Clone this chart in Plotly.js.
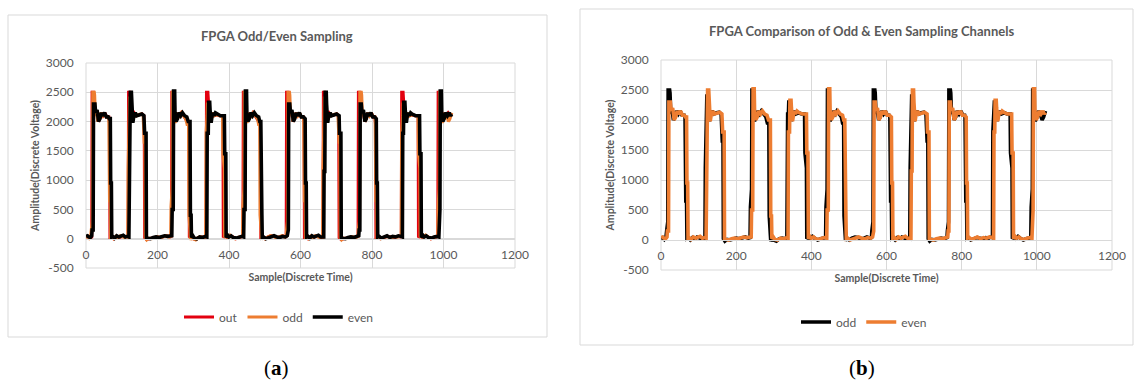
<!DOCTYPE html>
<html>
<head>
<meta charset="utf-8">
<script src="https://cdn.plot.ly/plotly-3.0.1.min.js"></script>
<style>
  html, body { margin: 0; padding: 0; background: #ffffff; }
  #chart { width: 1135px; height: 383px; }
</style>
</head>
<body>
<div id="chart"></div>
<script>
// ---------------- DATA ----------------
const xTickVals = [0, 200, 400, 600, 800, 1000, 1200];
const xTickLabels = ["0", "200", "400", "600", "800", "1000", "1200"];
const yTickVals = [-500, 0, 500, 1000, 1500, 2000, 2500, 3000];
const yTickLabels = ["-500", "0", "500", "1000", "1500", "2000", "2500", "3000"];

// "out" channel (combined output)
const sampleOut = [
  0,6,12,16,17,21,23,27,31,35,39,43,48,53,58,64,66,67,
  71,77,85,93,101,109,115,118,
  119,123,125,128,131,135,141,149,157,162,163,164,
  169,177,187,197,207,217,227,235,239,
  240,244,246,249,253,257,262,267,273,279,283,288,289,
  293,299,307,315,323,331,336,
  337,341,343,346,350,354,358,365,373,383,384,
  388,395,403,411,419,427,435,439,
  440,444,446,449,453,457,462,467,473,479,483,488,489,
  493,501,509,517,525,533,543,551,557,560,
  561,565,567,571,575,579,583,587,592,597,602,608,610,611,
  615,621,629,637,645,653,659,663,
  664,668,670,673,676,680,686,694,702,706,707,708,
  713,721,731,741,751,758,761,
  762,766,768,772,776,780,784,788,793,798,803,808,810,811,
  815,823,833,843,853,863,873,879,882,
  883,887,889,892,896,900,904,911,919,929,930,
  934,941,949,957,965,973,980,984,
  985,989,991,994,998,1002,1007,1013,1019,1023
];
const ampOut = [
  30,40,20,30,2500,2500,2200,2100,2150,2000,2050,2150,2100,2150,2080,2080,1950,20,
  30,0,40,20,40,30,40,30,
  2500,2500,2200,2000,2100,2150,2100,2120,2130,2100,1800,20,
  -10,0,20,30,20,40,50,30,40,
  2500,2500,2150,2000,2050,2150,2100,2150,2100,2050,2000,2000,20,
  40,0,-10,20,30,20,40,
  2500,2500,2200,2000,2100,2150,2100,2120,2100,2100,20,
  50,20,50,30,0,20,30,40,
  2500,2500,2150,2000,2050,2150,2100,2150,2100,2050,2000,2000,20,
  30,0,30,50,40,20,30,50,30,40,
  2500,2500,2200,2100,2150,2000,2050,2150,2100,2150,2080,2080,1950,20,
  30,0,40,20,50,40,20,30,
  2500,2500,2200,2000,2100,2150,2100,2120,2130,2100,1800,20,
  -10,0,20,30,20,40,40,
  2500,2500,2200,2100,2150,2000,2050,2150,2100,2150,2080,2080,1950,20,
  30,0,20,40,30,20,40,30,40,
  2500,2500,2200,2000,2100,2150,2100,2120,2100,2100,20,
  50,20,50,30,0,20,30,40,
  2500,2500,2150,2000,2050,2150,2100,2150,2100,2100
];

// "odd" sampling channel
const sampleOdd = [
  0,5,9,13,15,16,18,19,23,24,26,30,33,37,41,46,51,56,62,64,65,66,68,69,
  73,78,84,90,96,102,108,114,117,
  118,119,121,122,125,126,129,132,136,141,148,155,160,161,163,165,166,
  170,176,184,192,200,208,216,224,232,237,
  238,239,241,242,245,246,249,253,257,262,267,273,279,283,287,288,289,291,292,
  296,300,307,314,322,330,335,
  336,337,339,340,343,344,347,351,355,359,366,374,382,383,385,387,388,
  392,397,403,409,417,425,433,438,
  439,440,442,443,446,447,450,454,458,463,468,474,480,483,486,487,488,490,491,
  495,501,508,516,524,532,540,548,556,560,
  561,562,564,565,569,570,572,576,579,583,587,592,597,602,607,609,610,611,613,614,
  618,623,629,635,641,647,653,659,662,
  663,664,666,667,670,671,674,677,681,686,693,700,705,706,708,710,711,
  715,721,729,737,745,753,759,761,
  762,763,765,766,770,771,773,777,780,784,788,793,798,803,808,809,810,811,813,814,
  818,824,832,840,848,856,864,872,878,882,
  883,884,886,887,890,891,894,898,902,906,913,921,929,930,932,934,935,
  939,944,950,956,964,972,980,984,
  985,986,988,989,992,993,996,1000,1004,1009,1014,1018,1023
];
const ampOdd = [
  30,40,10,40,150,300,300,2500,2500,2450,2100,2150,2000,2050,2150,2100,2150,2080,2080,2050,950,650,650,20,
  30,0,40,20,50,40,20,40,30,
  1200,1500,1500,2400,2400,2100,1980,2100,2150,2100,2120,2130,2100,1800,1650,1650,20,
  -20,10,0,20,30,20,40,50,30,40,
  550,850,850,2500,2500,2100,1980,2050,2150,2100,2150,2100,2050,1950,1950,400,150,150,-20,
  40,0,-20,20,30,20,40,
  1800,2100,2100,2300,2300,2150,1980,2100,2150,2100,2120,2100,2100,1450,1200,1200,20,
  50,20,60,30,0,20,30,40,
  550,850,850,2500,2500,2100,1980,2050,2150,2100,2150,2100,2050,1950,1950,400,150,150,-10,
  30,0,30,50,40,20,30,50,30,40,
  150,300,300,2500,2500,2450,2100,2150,2000,2050,2150,2100,2150,2080,2080,2050,950,650,650,20,
  30,0,40,20,50,40,20,40,30,
  1200,1500,1500,2400,2400,2100,1980,2100,2150,2100,2120,2130,2100,1800,1650,1650,20,
  -20,10,0,20,30,20,40,40,
  150,300,300,2500,2500,2450,2100,2150,2000,2050,2150,2100,2150,2080,2080,2050,950,650,650,20,
  30,0,20,40,30,20,40,30,50,40,
  1800,2100,2100,2300,2300,2150,1980,2100,2150,2100,2120,2100,2100,1450,1200,1200,20,
  50,20,60,30,0,20,30,40,
  550,850,850,2500,2500,2100,1980,2050,2150,2100,2000,2050,2150
];

// "even" sampling channel
const sampleEven = [
  0,4,8,12,16,17,20,21,25,27,31,35,39,43,47,52,57,62,65,68,69,71,72,
  75,80,86,92,98,104,110,116,120,
  121,123,124,127,128,131,134,138,142,150,156,162,164,168,169,
  173,180,188,196,204,212,220,228,236,240,
  241,244,245,248,249,252,256,260,265,270,276,282,286,291,292,294,295,
  299,303,310,318,326,334,338,
  339,342,343,346,347,350,354,358,362,368,376,387,388,391,392,
  396,400,406,412,420,428,436,441,
  442,445,446,449,450,453,457,461,466,471,477,483,486,489,490,492,493,
  497,503,510,518,526,534,542,550,558,563,
  564,566,567,570,572,576,580,584,588,592,597,602,608,611,613,614,616,617,
  621,626,632,638,644,650,656,662,665,
  666,668,669,672,673,676,679,683,687,695,701,708,709,713,714,
  718,725,733,741,749,757,763,
  764,766,767,770,772,776,780,784,788,792,797,802,807,810,812,813,815,816,
  820,826,834,842,850,858,866,874,880,885,
  886,888,889,892,893,896,900,904,908,914,922,933,934,937,938,
  942,946,952,958,966,974,982,987,
  988,990,991,994,995,998,1002,1006,1011,1016,1020,1023
];
const ampEven = [
  40,50,30,20,50,150,150,2300,2300,2150,2200,2000,2050,2150,2100,2150,2080,2080,2050,2050,950,950,30,
  40,10,50,30,40,60,30,40,30,
  1150,1150,2500,2500,2300,1980,2100,2150,2100,2120,2130,2100,1800,1800,20,
  10,0,20,30,20,40,50,40,50,50,
  500,500,2520,2520,2150,2000,2050,2150,2100,2150,2100,2080,2000,2000,400,400,20,
  50,10,0,30,20,40,30,
  1800,1800,2330,2330,2200,1980,2150,2100,2150,2120,2100,2100,1450,1450,20,
  60,30,50,20,10,30,40,30,
  500,500,2520,2520,2150,2000,2050,2150,2100,2150,2100,2080,2000,2000,400,400,20,
  30,0,20,40,50,30,20,40,30,50,
  150,150,2300,2300,2150,2200,2000,2050,2150,2100,2150,2080,2080,2050,2050,950,950,30,
  40,10,50,30,40,60,30,40,30,
  1150,1150,2500,2500,2300,1980,2100,2150,2100,2120,2130,2100,1800,1800,20,
  10,0,20,30,20,40,50,
  150,150,2300,2300,2150,2200,2000,2050,2150,2100,2150,2080,2080,2050,2050,950,950,30,
  40,10,30,50,20,40,30,50,40,30,
  1800,1800,2330,2330,2200,1980,2150,2100,2150,2120,2100,2100,1450,1450,20,
  60,30,50,20,10,30,40,30,
  500,500,2520,2520,2150,2000,2050,2150,2100,2150,2100,2130
];

const titleA = "FPGA Odd/Even Sampling";
const titleB = "FPGA Comparison of Odd & Even Sampling Channels";
const xTitle = "Sample(Discrete Time)";
const yTitle = "Amplitude(Discrete Voltage)";

// ---------------- STYLE / LAYOUT ----------------
const W = 1135, H = 383;
const px = v => v / W;             // pixel x -> paper
const py = v => 1 - v / H;         // pixel y -> paper
const RED = "#E3000F", ORANGE = "#ED7D31", BLACK = "#000000";
const GRID = "#D9D9D9", TXT = "#595959";
const FONT = "Lato, 'Open Sans', sans-serif";

const domA = { x: [px(86), px(515)], y: [py(268), py(63)] };
const domB = { x: [px(661), px(1112)], y: [py(270), py(60)] };
const zeroPos = d => d.y[0] + (0 - (-500)) / 3500 * (d.y[1] - d.y[0]);

function xAxis(dom) {
  return {
    domain: dom.x, range: [0, 1200], anchor: "free", position: zeroPos(dom),
    tickmode: "array", tickvals: xTickVals, ticktext: xTickLabels,
    showgrid: true, gridcolor: GRID, gridwidth: 1, zeroline: false,
    showline: true, linecolor: GRID, linewidth: 1,
    ticks: "outside", ticklen: 5, tickcolor: "rgba(0,0,0,0)",
    tickfont: { family: FONT, size: 12, color: TXT },
    title: { text: "<b>" + xTitle + "</b>", font: { family: FONT, size: 10.5, color: TXT }, standoff: 12 },
    fixedrange: true
  };
}
function yAxis(dom, xref) {
  return {
    domain: dom.y, range: [-500, 3000], anchor: xref,
    tickmode: "array", tickvals: yTickVals, ticktext: yTickLabels,
    showgrid: true, gridcolor: GRID, gridwidth: 1, zeroline: false, showline: false,
    ticks: "outside", ticklen: 9, tickcolor: "rgba(0,0,0,0)",
    tickfont: { family: FONT, size: 12, color: TXT },
    title: { text: "<b>" + yTitle + "</b>", font: { family: FONT, size: 10.5, color: TXT }, standoff: 4 },
    fixedrange: true
  };
}

const traces = [
  { x: sampleOut, y: ampOut, name: "out", type: "scatter", mode: "lines",
    line: { color: RED, width: 3 }, xaxis: "x", yaxis: "y", legend: "legend" },
  { x: sampleOdd, y: ampOdd, name: "odd", type: "scatter", mode: "lines",
    line: { color: ORANGE, width: 3.2 }, xaxis: "x", yaxis: "y", legend: "legend" },
  { x: sampleEven, y: ampEven, name: "even", type: "scatter", mode: "lines",
    line: { color: BLACK, width: 3.6 }, xaxis: "x", yaxis: "y", legend: "legend" },
  { x: sampleOdd, y: ampOdd, name: "odd", type: "scatter", mode: "lines",
    line: { color: BLACK, width: 3.6 }, xaxis: "x2", yaxis: "y2", legend: "legend2" },
  { x: sampleEven, y: ampEven, name: "even", type: "scatter", mode: "lines",
    line: { color: ORANGE, width: 3.6 }, xaxis: "x2", yaxis: "y2", legend: "legend2" }
];

const legendBase = {
  orientation: "h", xanchor: "center", yanchor: "middle",
  font: { family: FONT, size: 12, color: TXT }, bgcolor: "rgba(0,0,0,0)",
  itemwidth: 30, traceorder: "normal"
};

function frame(xr, yr) {
  return { type: "rect", xref: xr + " domain", yref: yr + " domain", x0: 0, x1: 1, y0: 0, y1: 1,
    line: { color: GRID, width: 1 }, fillcolor: "rgba(0,0,0,0)", layer: "below" };
}

const layout = {
  width: W, height: H,
  margin: { l: 0, r: 0, t: 0, b: 0 },
  paper_bgcolor: "#ffffff", plot_bgcolor: "#ffffff",
  showlegend: true,
  xaxis: xAxis(domA), yaxis: yAxis(domA, "x"),
  xaxis2: xAxis(domB), yaxis2: yAxis(domB, "x2"),
  legend: Object.assign({}, legendBase, { x: px(279), y: py(317) }),
  legend2: Object.assign({}, legendBase, { x: px(864), y: py(322) }),
  shapes: [
    { type: "rect", xref: "paper", yref: "paper", x0: px(8), x1: px(547), y0: py(337), y1: py(15),
      line: { color: GRID, width: 1 }, fillcolor: "rgba(0,0,0,0)", layer: "below" },
    { type: "rect", xref: "paper", yref: "paper", x0: px(580), x1: px(1133), y0: py(345), y1: py(9),
      line: { color: GRID, width: 1 }, fillcolor: "rgba(0,0,0,0)", layer: "below" },
    frame("x", "y"), frame("x2", "y2")
  ],
  annotations: [
    { text: "<b>" + titleA + "</b>", xref: "paper", yref: "paper", x: px(277), y: py(36),
      xanchor: "center", yanchor: "middle", showarrow: false,
      font: { family: FONT, size: 13, color: TXT } },
    { text: "<b>" + titleB + "</b>", xref: "paper", yref: "paper", x: px(861), y: py(31),
      xanchor: "center", yanchor: "middle", showarrow: false,
      font: { family: FONT, size: 13, color: TXT } },
    { text: "(<b>a</b>)", xref: "paper", yref: "paper", x: px(276), y: py(368),
      xanchor: "center", yanchor: "middle", showarrow: false,
      font: { family: "'Liberation Serif', 'DejaVu Serif', serif", size: 21, color: "#000000" } },
    { text: "(<b>b</b>)", xref: "paper", yref: "paper", x: px(862), y: py(368),
      xanchor: "center", yanchor: "middle", showarrow: false,
      font: { family: "'Liberation Serif', 'DejaVu Serif', serif", size: 21, color: "#000000" } }
  ]
};

Plotly.newPlot("chart", traces, layout, { staticPlot: true, displayModeBar: false });
</script>
</body>
</html>
